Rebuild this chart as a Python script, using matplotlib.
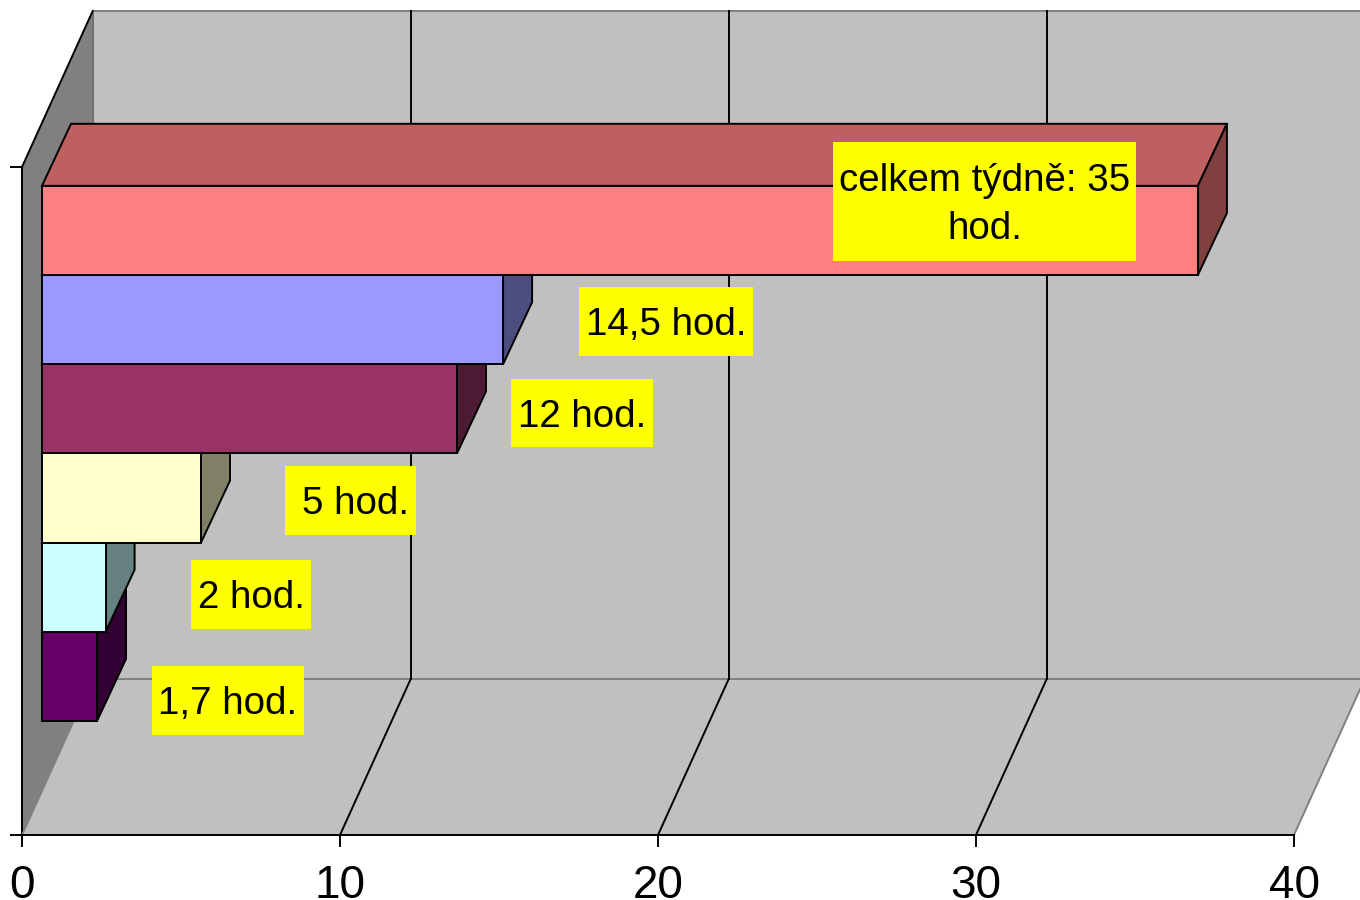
import matplotlib
matplotlib.use('Agg')
import matplotlib.pyplot as plt
from matplotlib.patches import Polygon, Rectangle

plt.rcParams['font.family'] = ['Liberation Sans', 'DejaVu Sans']

# Hours per activity, bottom bar first
hours = [1.73, 2, 5, 13.05, 14.5, 36.35]
labels = ['1,7 hod.', '2 hod.', '5 hod.', '12 hod.', '14,5 hod.', 'celkem týdně: 35\nhod.']
front_colors = ['#660066', '#CCFFFF', '#FFFFCC', '#993366', '#9999FF', '#FF8080']
top_colors = ['#4D004D', '#99BFBF', '#BFBF99', '#732640', '#7373BF', '#BF6060']
side_colors = ['#330033', '#668080', '#808066', '#4D1A33', '#4D4D80', '#804040']
x_ticks = [0, 10, 20, 30, 40]

# Pixel scale of the chart
PX_X = 31.8
PX_Y = 89.2
LW = 1.4
GREY = '#808080'


def dx(px):
    return px / PX_X


def dy(px):
    return px / PX_Y


fig = plt.figure(figsize=(13.6, 9), dpi=100)
ax = fig.add_axes([0, 0, 1, 1])
ax.set_xlim(dx(-22), dx(1360 - 22))
ax.set_ylim(dy(721 - 900), dy(721))
ax.axis('off')

floor_y = dy(721 - 835)
wall_dx, wall_dy = dx(70.7), dy(156)
wall_h = dy(668)
x_max = x_ticks[-1]
back_y = floor_y + wall_dy
top_y = back_y + wall_h

# Walls and floor
ax.add_patch(Polygon([(0, floor_y), (wall_dx, back_y), (wall_dx, top_y), (0, floor_y + wall_h)],
                     facecolor='#808080', edgecolor='none', zorder=1))
ax.add_patch(Rectangle((wall_dx, back_y), x_max, wall_h, facecolor='#C0C0C0', edgecolor='none', zorder=1))
ax.add_patch(Polygon([(0, floor_y), (x_max, floor_y), (x_max + wall_dx, back_y), (wall_dx, back_y)],
                     facecolor='#C0C0C0', edgecolor='none', zorder=1))
ax.plot([wall_dx, x_max + wall_dx], [back_y, back_y], color=GREY, lw=LW, zorder=2)
ax.plot([wall_dx, x_max + wall_dx], [top_y, top_y], color=GREY, lw=LW, zorder=2)
ax.plot([wall_dx, wall_dx], [back_y, top_y], color='#707070', lw=LW, zorder=2)
ax.plot([0, 0], [floor_y, floor_y + wall_h], color='black', lw=LW, zorder=2)
ax.plot([0, wall_dx], [floor_y + wall_h, top_y], color='black', lw=LW, zorder=2)

# Gridlines on wall and floor, ticks and tick labels
for t in x_ticks:
    inner = 0 < t < x_max
    ax.plot([t, t + wall_dx], [floor_y, back_y], color='black' if inner else GREY, lw=LW, zorder=2)
    if inner:
        ax.plot([t + wall_dx] * 2, [back_y, top_y], color='black', lw=LW, zorder=2)
    ax.plot([t, t], [floor_y, floor_y - dy(11)], color='black', lw=LW, zorder=2)
    ax.text(t, floor_y - dy(63), str(t), ha='center', va='baseline', fontsize=33)
ax.plot([0, x_max], [floor_y, floor_y], color='black', lw=LW, zorder=2)
for y in [floor_y, floor_y + wall_h]:
    ax.plot([dx(-11), 0], [y, y], color='black', lw=LW, zorder=2)

# Bars, bottom one first so the upper ones cover it
bar_x = dx(20)
bar_dx, bar_dy = dx(29), dy(62)
for i, h in enumerate(hours):
    x1 = bar_x + h
    ax.add_patch(Polygon([(bar_x, i + 1), (x1, i + 1), (x1 + bar_dx, i + 1 + bar_dy), (bar_x + bar_dx, i + 1 + bar_dy)],
                         facecolor=top_colors[i], edgecolor='black', lw=LW, zorder=3 + i))
    ax.add_patch(Polygon([(x1, i), (x1 + bar_dx, i + bar_dy), (x1 + bar_dx, i + 1 + bar_dy), (x1, i + 1)],
                         facecolor=side_colors[i], edgecolor='black', lw=LW, zorder=3 + i))
    ax.bar(bar_x, 1, width=h, bottom=i, align='edge', color=front_colors[i], edgecolor='black', lw=LW, zorder=3 + i)

# Yellow data labels: box edges and text centre, in picture pixels
box_left = [152, 191, 285, 511, 579, 833]
box_right = [304, 311, 416, 653, 753, 1136]
box_top = [666, 560, 466, 379, 287, 142]
box_bottom = [735, 629, 535, 447, 356, 261]
label_x = [228, 251, 356, 582, 666, 985]
label_y = [704, 598, 504, 417, 325, 205]
for i, text in enumerate(labels):
    ax.add_patch(Rectangle((dx(box_left[i] - 22), dy(721 - box_bottom[i])),
                           dx(box_right[i] - box_left[i]), dy(box_bottom[i] - box_top[i]),
                           facecolor='#FFFF00', edgecolor='none', zorder=20))
    ax.text(dx(label_x[i] - 22), dy(721 - label_y[i]), text, ha='center', va='center',
            fontsize=27.7, linespacing=1.41, zorder=21)

fig.savefig('out.png', dpi=100)
